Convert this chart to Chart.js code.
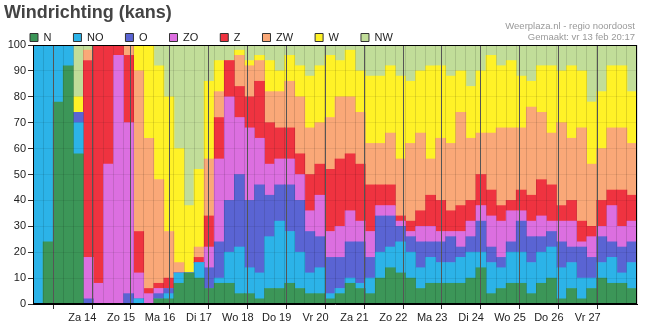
<!DOCTYPE html>
<html>
<head>
<meta charset="utf-8">
<script src="https://cdn.jsdelivr.net/npm/chart.js@4.4.1/dist/chart.umd.min.js"></script>
<style>
  html, body { margin: 0; padding: 0; background: #fff; }
  #wrap { width: 647px; height: 325px; }
</style>
</head>
<body>
<div id="wrap"><canvas id="windChart"></canvas></div>
<script>
// days shown on the axis (first and last day are only half visible)
const slotDays = ['vr 13', 'za 14', 'zo 15', 'ma 16', 'di 17', 'wo 18', 'do 19', 'vr 20',
  'za 21', 'zo 22', 'ma 23', 'di 24', 'wo 25', 'do 26', 'vr 27', 'za 28'];
const slotHours = ['00u', '06u', '12u', '18u'];
const dayLabels = ['Za 14', 'Zo 15', 'Ma 16', 'Di 17', 'Wo 18', 'Do 19', 'Vr 20',
  'Za 21', 'Zo 22', 'Ma 23', 'Di 24', 'Wo 25', 'Do 26', 'Vr 27'];
const yTicks = [0, 10, 20, 30, 40, 50, 60, 70, 80, 90, 100];

const seriesNames = ['N', 'NO', 'O', 'ZO', 'Z', 'ZW', 'W', 'NW'];
const seriesColors = ['#3c9658', '#2cb3e8', '#5a64d3', '#dc6fe0', '#ef3340', '#faa878', '#fff227', '#c1dd99'];

// kans (%) per 6-uurs blok
const windN  = [0, 24, 78, 92, 58, 0, 0, 0, 0, 0, 0, 0, 2, 2, 8, 12, 10, 6, 8, 8,
  4, 4, 2, 6, 6, 8, 6, 4, 4, 2, 4, 8, 6, 4, 10, 14, 12, 10, 6, 8,
  8, 8, 8, 10, 14, 4, 6, 8, 8, 4, 8, 10, 2, 6, 2, 6, 10, 8, 8, 6];
const windNO = [100, 76, 22, 8, 12, 0, 0, 0, 0, 0, 2, 0, 0, 2, 4, 0, 6, 0, 2, 12,
  18, 10, 10, 20, 26, 20, 14, 8, 10, 2, 2, 2, 2, 6, 10, 8, 12, 10, 8, 10,
  8, 8, 10, 10, 6, 12, 8, 12, 12, 12, 12, 12, 12, 10, 8, 4, 6, 10, 4, 10];
const windO  = [0, 0, 0, 0, 4, 2, 0, 0, 0, 4, 0, 0, 2, 2, 0, 0, 0, 8, 14, 20,
  28, 26, 34, 16, 14, 18, 20, 16, 12, 14, 12, 14, 16, 8, 14, 12, 6, 6, 10, 6,
  8, 10, 4, 6, 12, 6, 4, 4, 12, 10, 6, 6, 10, 6, 12, 8, 10, 6, 10, 8];
const windZO = [0, 0, 0, 0, 0, 16, 8, 54, 96, 66, 10, 4, 2, 0, 0, 0, 0, 8, 32, 40,
  22, 28, 18, 12, 10, 10, 10, 8, 16, 10, 12, 12, 8, 10, 4, 4, 2, 2, 6, 6,
  4, 2, 6, 6, 6, 12, 14, 12, 4, 6, 8, 4, 8, 10, 2, 8, 4, 14, 8, 8];
const windZ  = [0, 0, 0, 0, 0, 76, 92, 46, 4, 26, 16, 2, 2, 4, 0, 0, 2, 12, 16, 14,
  12, 12, 22, 16, 12, 12, 8, 14, 12, 24, 26, 22, 22, 18, 8, 8, 2, 4, 6, 12,
  12, 8, 10, 8, 12, 10, 6, 4, 8, 10, 14, 14, 6, 8, 8, 4, 10, 6, 14, 10];
const windZW = [0, 0, 0, 0, 0, 4, 0, 0, 0, 4, 62, 58, 40, 18, 4, 0, 4, 22, 10, 0,
  12, 12, 8, 12, 14, 18, 22, 18, 16, 20, 24, 22, 20, 16, 16, 20, 22, 30, 30, 14,
  24, 26, 36, 24, 16, 22, 30, 28, 24, 34, 26, 20, 32, 24, 36, 24, 20, 24, 24, 20];
const windW  = [0, 0, 0, 0, 6, 0, 0, 0, 0, 0, 10, 36, 44, 52, 44, 26, 30, 30, 12, 0,
  2, 2, 2, 12, 8, 10, 12, 20, 22, 24, 14, 18, 16, 26, 26, 26, 32, 24, 24, 36,
  28, 26, 16, 20, 24, 30, 24, 26, 20, 10, 18, 26, 20, 28, 22, 24, 22, 24, 24, 20];
const windNW = [0, 0, 0, 0, 20, 2, 0, 0, 0, 0, 0, 0, 8, 20, 40, 62, 48, 14, 6, 6,
  2, 6, 4, 6, 10, 4, 8, 12, 8, 4, 6, 2, 10, 12, 12, 8, 12, 14, 10, 8,
  8, 12, 10, 16, 10, 4, 8, 6, 12, 14, 8, 8, 10, 8, 10, 22, 18, 8, 8, 18];

const seriesValues = [windN, windNO, windO, windZO, windZ, windZW, windW, windNW];

// 6-uurs vakjes: vr 13 alleen 12u/18u, za 28 alleen 00u/06u
const slotLabels = [];
slotDays.forEach((day, d) => {
  slotHours.forEach((h, k) => {
    if (d === 0 && k < 2) return;
    if (d === slotDays.length - 1 && k > 1) return;
    slotLabels.push(`${day} ${h}`);
  });
});

// day borders and day centres on the linear helper axis
const dayTickValues = [];
dayLabels.forEach((_, d) => {
  dayTickValues.push(2 + d * 4, 4 + d * 4);
});
dayTickValues.push(2 + dayLabels.length * 4);
const isDayBorder = (v) => (v - 2) % 4 === 0;

const FONT = "'Liberation Sans', Arial, sans-serif";
Chart.defaults.font.family = FONT;
Chart.defaults.font.size = 11;
Chart.defaults.color = '#222';

const headerPlugin = {
  id: 'header',
  afterDraw(chart) {
    const ctx = chart.ctx;
    ctx.save();
    ctx.fillStyle = '#444';
    ctx.font = `bold 18px ${FONT}`;
    ctx.textAlign = 'left';
    ctx.textBaseline = 'alphabetic';
    ctx.fillText('Windrichting (kans)', 4, 18);

    ctx.fillStyle = '#999';
    ctx.font = `9.5px ${FONT}`;
    ctx.textAlign = 'right';
    ctx.textBaseline = 'middle';
    ctx.fillText('Weerplaza.nl - regio noordoost', 635, 26);
    ctx.fillText('Gemaakt: vr 13 feb 20:17', 635, 37);
    ctx.restore();
  }
};

const framePlugin = {
  id: 'frame',
  afterDraw(chart) {
    const { ctx, chartArea: a } = chart;
    ctx.save();
    ctx.strokeStyle = '#000';
    ctx.lineWidth = 1;
    ctx.strokeRect(a.left + 0.5, a.top + 0.5, a.width - 1, a.height - 1);
    ctx.restore();
  }
};

const datasets = seriesNames.map((name, i) => ({
  label: name,
  data: seriesValues[i],
  backgroundColor: seriesColors[i],
  borderWidth: 0,
  barPercentage: 1,
  categoryPercentage: 1,
  xAxisID: 'x',
  yAxisID: 'y'
}));

new Chart(document.getElementById('windChart'), {
  type: 'bar',
  data: { labels: slotLabels, datasets },
  options: {
    responsive: true,
    maintainAspectRatio: false,
    animation: false,
    layout: { padding: { left: 8, right: 10, top: 10, bottom: 0 } },
    plugins: {
      title: { display: false },
      tooltip: { enabled: false },
      legend: {
        position: 'top',
        align: 'start',
        maxHeight: 35,
        labels: {
          boxWidth: 8,
          boxHeight: 8,
          padding: 22,
          color: '#222',
          font: { size: 11 },
          generateLabels: (chart) =>
            Chart.defaults.plugins.legend.labels.generateLabels(chart).map(item => ({
              ...item,
              strokeStyle: '#333',
              lineWidth: 1
            }))
        }
      }
    },
    scales: {
      x: {
        stacked: true,
        ticks: { display: false, autoSkip: false },
        grid: { offset: true, color: 'rgba(0,0,0,0.12)', drawTicks: false, z: 1 },
        border: { display: false },
        afterFit: (axis) => { axis.height = 0; }
      },
      xDays: {
        type: 'linear',
        position: 'bottom',
        min: 0,
        max: slotLabels.length,
        afterBuildTicks: (axis) => {
          axis.ticks = dayTickValues.map(v => ({ value: v }));
        },
        ticks: {
          autoSkip: false,
          maxRotation: 0,
          padding: 2,
          color: '#222',
          font: { size: 11 },
          callback: (v) => isDayBorder(v) ? '' : dayLabels[(v - 4) / 4]
        },
        grid: {
          color: (ctx) => ctx.tick && isDayBorder(ctx.tick.value) ? '#555' : 'rgba(0,0,0,0)',
          tickColor: (ctx) => ctx.tick && isDayBorder(ctx.tick.value) ? '#333' : 'rgba(0,0,0,0)',
          tickLength: 5,
          z: 1
        },
        border: { color: '#000', z: 2 },
        afterFit: (axis) => { axis.height = 21; }
      },
      y: {
        stacked: true,
        min: 0,
        max: 100,
        afterBuildTicks: (axis) => {
          axis.ticks = yTicks.map(v => ({ value: v }));
        },
        ticks: { padding: 2, color: '#222', font: { size: 11 } },
        grid: { color: 'rgba(0,0,0,0.07)', tickColor: '#333', tickLength: 5, z: 1 },
        border: { color: '#000', z: 2 },
        afterFit: (axis) => { axis.width = 25; }
      }
    }
  },
  plugins: [headerPlugin, framePlugin]
});
</script>
</body>
</html>
